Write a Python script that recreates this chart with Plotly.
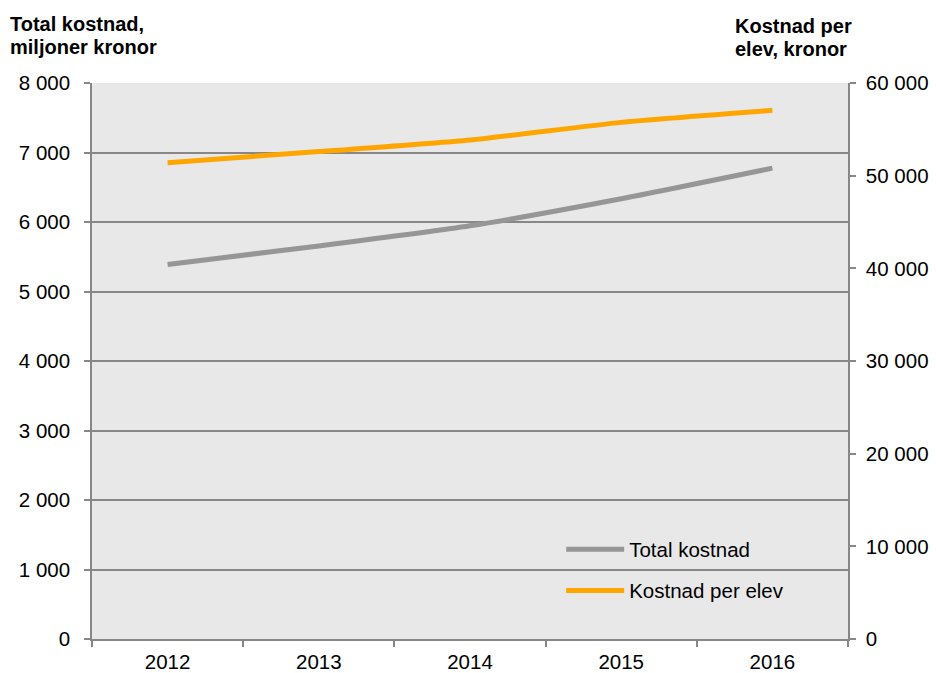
import plotly.graph_objects as go

years = ["2012", "2013", "2014", "2015", "2016"]
total_kostnad = [5390, 5655, 5945, 6335, 6775]
kostnad_per_elev = [51400, 52600, 53850, 55750, 57050]

left_ticks = [0, 1000, 2000, 3000, 4000, 5000, 6000, 7000, 8000]
right_ticks = [0, 10000, 20000, 30000, 40000, 50000, 60000]

GRAY = "#969696"
ORANGE = "#FFA500"
AXIS = "#878787"
FONT = "Liberation Sans, Arial, sans-serif"
FS = 20.5

fig = go.Figure()
fig.add_trace(go.Scatter(
    x=years, y=total_kostnad, name="Total kostnad", mode="lines",
    line=dict(color=GRAY, width=5, shape="spline", smoothing=0.6),
    yaxis="y", legend="legend", showlegend=True))
fig.add_trace(go.Scatter(
    x=years, y=kostnad_per_elev, name="Kostnad per elev", mode="lines",
    line=dict(color=ORANGE, width=5, shape="spline", smoothing=0.6),
    yaxis="y2", legend="legend2", showlegend=True))

fig.update_layout(
    width=936, height=673,
    margin=dict(l=92, r=88, t=83, b=34, autoexpand=False),
    paper_bgcolor="white", plot_bgcolor="#E8E8E8",
    separators=", ",
    font=dict(family=FONT, size=FS, color="#000000"),
    xaxis=dict(type="category", tickson="boundaries", range=[-0.5, 4.5],
               ticks="outside", ticklen=6, tickcolor=AXIS, tickwidth=1.5,
               showline=True, linecolor=AXIS, linewidth=1.5,
               showgrid=False, tickfont=dict(size=FS), ticklabelstandoff=4),
    yaxis=dict(range=[0, 8000], tickvals=left_ticks, tickformat=",d",
               ticks="outside", ticklen=6, tickcolor=AXIS, tickwidth=1.5,
               showline=True, linecolor=AXIS, linewidth=1.5,
               showgrid=True, gridcolor=AXIS, gridwidth=1.5,
               zeroline=False, tickfont=dict(size=FS), ticklabelstandoff=10),
    yaxis2=dict(range=[0, 60000], tickvals=right_ticks, tickformat=",d",
                overlaying="y", side="right",
                ticks="outside", ticklen=6, tickcolor=AXIS, tickwidth=1.5,
                showline=True, linecolor=AXIS, linewidth=1.5,
                showgrid=False, zeroline=False, tickfont=dict(size=FS),
                ticklabelstandoff=6),
    legend=dict(x=0.6206, y=0.161, xanchor="left", yanchor="middle",
                bgcolor="rgba(0,0,0,0)", itemwidth=58,
                font=dict(size=FS), itemclick=False),
    legend2=dict(x=0.6206, y=0.087, xanchor="left", yanchor="middle",
                 bgcolor="rgba(0,0,0,0)", itemwidth=58,
                 font=dict(size=FS), itemclick=False),
    annotations=[
        dict(text="<b>Total kostnad,</b>", xref="paper", yref="paper",
             x=-0.1111, y=1.13, xanchor="left", yanchor="top", showarrow=False,
             align="left", font=dict(size=20)),
        dict(text="<b>miljoner kronor</b>", xref="paper", yref="paper",
             x=-0.1111, y=1.089, xanchor="left", yanchor="top", showarrow=False,
             align="left", font=dict(size=20)),
        dict(text="<b>Kostnad per</b>", xref="paper", yref="paper",
             x=0.8473, y=1.126, xanchor="left", yanchor="top", showarrow=False,
             align="left", font=dict(size=20)),
        dict(text="<b>elev, kronor</b>", xref="paper", yref="paper",
             x=0.8473, y=1.084, xanchor="left", yanchor="top", showarrow=False,
             align="left", font=dict(size=20)),
    ],
)

fig.write_html("out.html", config={"displayModeBar": False},
               post_script="document.body.style.margin='0';document.body.style.overflow='hidden';")
